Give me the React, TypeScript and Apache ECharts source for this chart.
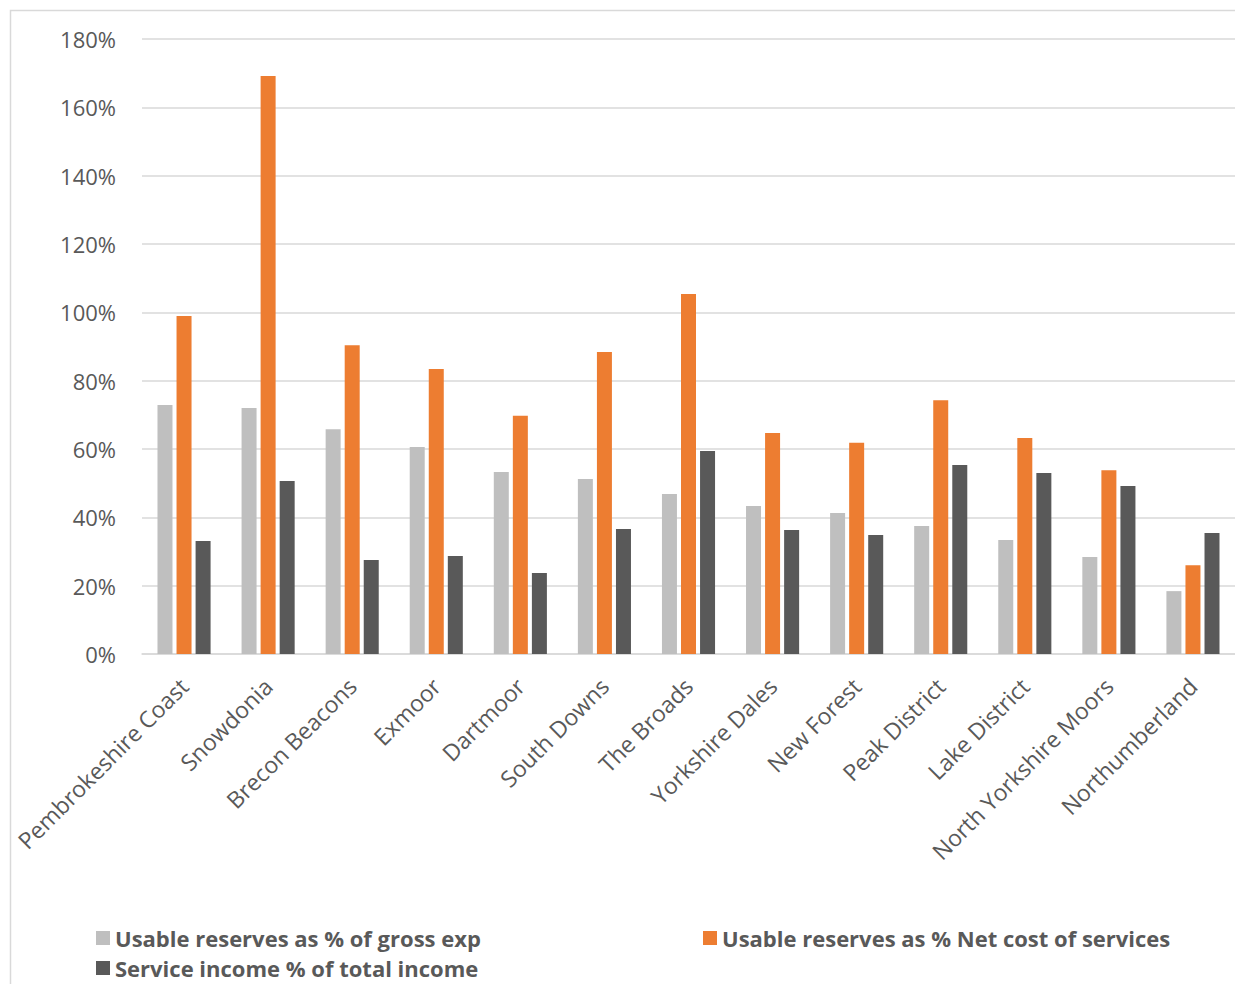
import React, { useEffect, useRef } from "react";
import * as echarts from "echarts";

const categories = [
  "Pembrokeshire Coast",
  "Snowdonia",
  "Brecon Beacons",
  "Exmoor",
  "Dartmoor",
  "South Downs",
  "The Broads",
  "Yorkshire Dales",
  "New Forest",
  "Peak District",
  "Lake District",
  "North Yorkshire Moors",
  "Northumberland",
];
const grossExp = [72.9, 72.0, 65.8, 60.6, 53.3, 51.2, 46.8, 43.3, 41.3, 37.5, 33.4, 28.4, 18.4];
const netCost = [98.9, 169.2, 90.4, 83.4, 69.7, 88.4, 105.4, 64.7, 61.8, 74.3, 63.2, 53.8, 26.0];
const serviceIncome = [33.1, 50.6, 27.5, 28.7, 23.7, 36.6, 59.4, 36.3, 34.8, 55.3, 53.0, 49.2, 35.4];
const seriesNames = [
  "Usable reserves as % of gross exp",
  "Usable reserves as % Net cost of services",
  "Service income % of total income",
];

const FONT = "'Open Sans', 'Noto Sans', sans-serif";

export default function App() {
  const ref = useRef<HTMLDivElement>(null);
  useEffect(() => {
    if (!ref.current) return;
    const chart = echarts.init(ref.current, undefined, { renderer: "svg" });
    const mk = (name: string, data: number[], color: string) => ({
      name,
      type: "bar",
      data,
      barWidth: 15,
      barGap: "27%",
      itemStyle: { color },
    });
    const legendText = {
      fontFamily: FONT,
      fontSize: 22,
      fontWeight: "bold",
      color: "#595959",
      lineHeight: 22,
    };
    const mkLegend = (name: string, left: number, top: number) => ({
      data: [name],
      left,
      top,
      padding: 0,
      itemWidth: 14,
      itemHeight: 14,
      itemGap: 4,
      icon: "rect",
      textStyle: legendText,
    });
    chart.setOption({
      animation: false,
      backgroundColor: "#ffffff",
      textStyle: { fontFamily: FONT },
      graphic: [
        {
          type: "rect",
          shape: { x: 10.5, y: 10.5, width: 1240, height: 990 },
          style: { fill: "none", stroke: "#d9d9d9", lineWidth: 1.5 },
          silent: true,
        },
      ],
      grid: { left: 142, right: 0, top: 39, bottom: 330, containLabel: false },
      legend: [
        mkLegend(seriesNames[0], 96, 927),
        mkLegend(seriesNames[1], 703, 927),
        mkLegend(seriesNames[2], 96, 957),
      ],
      xAxis: {
        type: "category",
        data: categories,
        axisLine: { lineStyle: { color: "#d9d9d9", width: 1.5 } },
        axisTick: { show: false },
        axisLabel: {
          rotate: 45,
          interval: 0,
          fontFamily: FONT,
          fontSize: 23,
          color: "#595959",
          margin: 28,
        },
      },
      yAxis: {
        type: "value",
        min: 0,
        max: 180,
        interval: 20,
        axisLine: { show: false },
        axisTick: { show: false },
        splitLine: { lineStyle: { color: "#d9d9d9", width: 1.5 } },
        axisLabel: {
          formatter: "{value}%",
          fontFamily: FONT,
          fontSize: 22,
          color: "#595959",
          margin: 26,
        },
      },
      series: [
        mk(seriesNames[0], grossExp, "#bfbfbf"),
        mk(seriesNames[1], netCost, "#ed7d31"),
        mk(seriesNames[2], serviceIncome, "#595959"),
      ],
    });
    return () => chart.dispose();
  }, []);
  return (
    <div
      ref={ref}
      style={{ position: "absolute", left: 0, top: 0, width: 1235, height: 984 }}
    />
  );
}
